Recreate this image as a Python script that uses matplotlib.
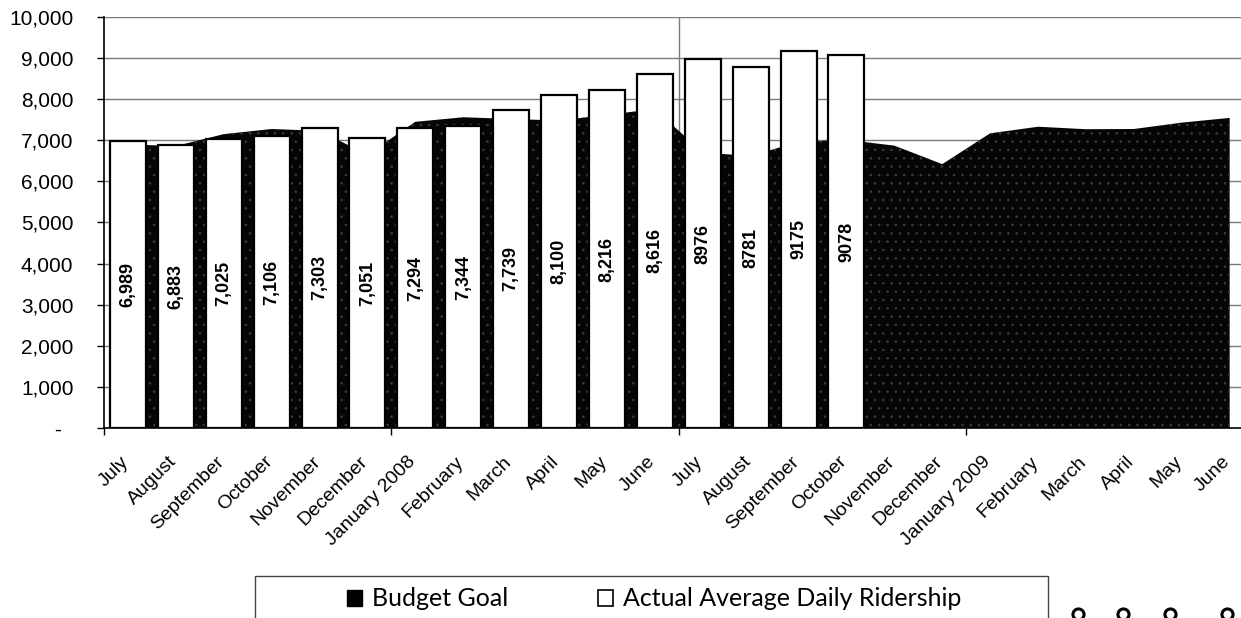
"""Average daily ridership vs budget goal, FY2008-FY2009."""

import matplotlib
matplotlib.use("Agg")
import matplotlib.pyplot as plt
from matplotlib.lines import Line2D
from matplotlib.patches import Patch, Rectangle
from matplotlib.ticker import FuncFormatter
from matplotlib.transforms import ScaledTranslation

# ── Data ─────────────────────────────────────────────────────────────────────

MONTHS = [
    "July", "August", "September", "October", "November", "December",
    "January 2008", "February", "March", "April", "May", "June",
    "July", "August", "September", "October", "November", "December",
    "January 2009", "February", "March", "April", "May", "June",
]

BUDGET_GOAL = [
    6900, 6860, 7150, 7275, 7230, 6650, 7450, 7560, 7520, 7480, 7620, 7760,
    6700, 6620, 6960, 7010, 6870, 6420, 7170, 7330, 7270, 7275, 7430, 7545,
]

ACTUAL = [
    6989, 6883, 7025, 7106, 7303, 7051, 7294, 7344, 7739, 8100, 8216, 8616,
    8976, 8781, 9175, 9078,
]
ACTUAL_LABELS = [
    "6,989", "6,883", "7,025", "7,106", "7,303", "7,051", "7,294", "7,344",
    "7,739", "8,100", "8,216", "8,616", "8976", "8781", "9175", "9078",
]

Y_TICKS = list(range(0, 10001, 1000))

# ── Figure ───────────────────────────────────────────────────────────────────

plt.rcParams["font.family"] = ["Liberation Sans", "DejaVu Sans"]
plt.rcParams["hatch.linewidth"] = 0.6

W, H = 1241, 618
fig = plt.figure(figsize=(W / 100, H / 100), dpi=100)

CAT_PX = 47.9
ax_left, ax_right, ax_top, ax_bot = 104, 1241, 17, 428
ax = fig.add_axes([ax_left / W, 1 - ax_bot / H,
                   (ax_right - ax_left) / W, (ax_bot - ax_top) / H])

x_all = list(range(len(MONTHS)))
x_act = list(range(len(ACTUAL)))

ax.fill_between(x_all, BUDGET_GOAL, 0, facecolor="#050505",
                edgecolor="#3c3c3c", hatch="..", lw=0, zorder=2)
ax.bar(x_act, ACTUAL, width=0.75, color="white", edgecolor="black",
       linewidth=1.6, zorder=3)

for xi, v, lab in zip(x_act, ACTUAL, ACTUAL_LABELS):
    ax.text(xi, v / 2, lab, rotation=90, ha="center", va="center",
            fontsize=13, fontweight="bold", zorder=4)

ax.set_xlim(-0.5, -0.5 + (ax_right - ax_left) / CAT_PX)
ax.set_ylim(0, 10000)

# gridlines + the single fiscal-year divider
for y in Y_TICKS[1:]:
    ax.axhline(y, color="#7a7a7a", lw=1.0, zorder=1)
ax.axvline(11.5, color="#7a7a7a", lw=1.0, zorder=1)

ax.set_yticks(Y_TICKS)
ax.yaxis.set_major_formatter(
    FuncFormatter(lambda v, _: "-  " if v == 0 else f"{int(v):,}"))
ax.tick_params(axis="y", length=5, width=1, pad=17, labelsize=15,
               direction="out")

ax.set_xticks([-0.5, 5.5, 11.5, 17.5])
ax.set_xticklabels([])
ax.tick_params(axis="x", which="major", length=5, width=1, direction="out")
ax.set_xticks(x_all, minor=True)
ax.set_xticklabels(MONTHS, minor=True, rotation=45, ha="right",
                   fontsize=14)
ax.tick_params(axis="x", which="minor", length=0, pad=18)
shift = ScaledTranslation(4 / 100, 0, fig.dpi_scale_trans)
for lab in ax.get_xticklabels(minor=True):
    lab.set_transform(lab.get_transform() + shift)

for side in ("top", "right"):
    ax.spines[side].set_visible(False)
ax.spines["left"].set_linewidth(1.2)
ax.spines["bottom"].set_linewidth(1.2)

# ── Legend ───────────────────────────────────────────────────────────────────

fig.patches.append(Rectangle((255 / W, 1 - 660 / H), (1048 - 255) / W,
                             (660 - 576) / H, transform=fig.transFigure,
                             facecolor="none", edgecolor="#444444", lw=1.0))
handles = [Patch(facecolor="black", edgecolor="black"),
           Patch(facecolor="white", edgecolor="black", lw=1.2)]
fig.legend(handles, ["Budget Goal", "Actual Average Daily Ridership"],
           loc="center left", bbox_to_anchor=(347 / W, 1 - 599 / H),
           ncol=2, frameon=False, handlelength=0.6, handleheight=0.6,
           handletextpad=0.4, columnspacing=3.6, borderaxespad=0,
           borderpad=0, prop={"family": "Lato", "size": 18})

# clipped glyph remnants at the bottom-right edge
for px in (1078, 1123, 1170, 1227):
    fig.add_artist(Line2D([px / W], [1 - 614 / H], transform=fig.transFigure,
                          marker="o", markersize=8, markerfacecolor="white",
                          markeredgecolor="black", markeredgewidth=2.2,
                          linestyle="none"))

fig.savefig("out.png", dpi=100)
